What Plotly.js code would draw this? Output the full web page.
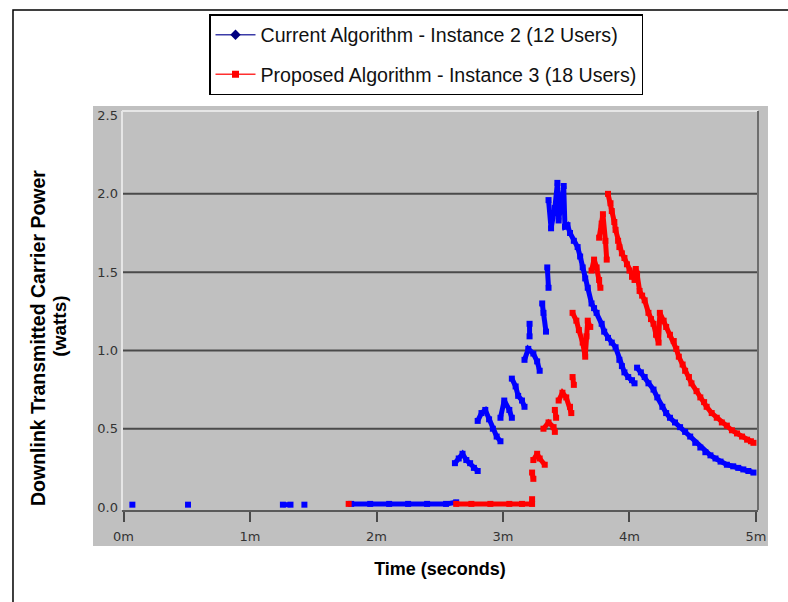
<!DOCTYPE html>
<html>
<head>
<meta charset="utf-8">
<script src="https://cdn.plot.ly/plotly-3.0.1.min.js"></script>
<style>html,body{margin:0;padding:0;background:#fff;}#chart{width:788px;height:602px;}</style>
</head>
<body>
<div id="chart"></div>
<script>
// Time in minutes, power in watts
var seriesNames = ["Current Algorithm - Instance 2 (12 Users)", "Proposed Algorithm - Instance 3 (18 Users)"];

var blueTime = [0.07,null,0.51,null,1.26,1.32,null,1.43,null,
  1.80,1.95,2.10,2.25,2.40,2.55,2.63,null,
  2.62,2.65,2.68,2.71,2.74,2.77,2.80,null,
  2.80,2.83,2.86,2.89,2.92,2.95,2.98,null,
  2.98,3.01,3.05,3.07,null,
  3.07,3.10,3.12,3.15,3.17,null,
  3.17,3.20,3.24,3.27,3.29,null,
  3.21,3.21,null,
  3.31,3.32,3.34,null,
  3.35,3.36,null,
  3.36,3.38,3.41,3.43,3.44,3.46,3.48,3.49,3.51,3.53,3.56,3.59,3.61,3.63,3.65,3.67,3.70,3.72,3.74,3.78,3.80,3.83,3.86,3.89,3.92,3.94,3.96,3.99,4.02,4.04,null,
  4.06,4.09,4.12,4.15,4.19,4.22,4.26,4.29,4.32,4.36,4.40,4.44,4.48,4.52,4.56,4.60,4.64,4.68,4.72,4.77,4.82,4.86,4.90,4.94,4.98];
var bluePower = [0.015,null,0.015,null,0.015,0.015,null,0.015,null,
  0.02,0.02,0.02,0.02,0.02,0.02,0.03,null,
  0.28,0.31,0.34,0.30,0.28,0.25,0.23,null,
  0.55,0.60,0.62,0.56,0.50,0.45,0.42,null,
  0.57,0.68,0.62,0.57,null,
  0.82,0.77,0.71,0.68,0.64,null,
  0.94,1.01,0.98,0.93,0.87,null,
  1.17,1.09,null,
  1.30,1.24,1.12,null,
  1.53,1.40,null,
  1.96,1.78,1.91,2.07,1.83,1.94,2.05,1.79,1.80,1.75,1.70,1.66,1.60,1.53,1.46,1.40,1.30,1.27,1.24,1.17,1.12,1.08,1.05,1.02,0.94,0.90,0.86,0.83,0.81,0.79,null,
  0.89,0.86,0.83,0.79,0.75,0.70,0.64,0.60,0.57,0.54,0.51,0.48,0.45,0.41,0.38,0.35,0.33,0.31,0.29,0.27,0.26,0.25,0.24,0.23,0.22];

var redTime = [1.78,null,
  2.63,2.75,2.90,3.05,3.15,3.23,3.23,null,
  3.23,3.24,null,
  3.24,3.27,3.29,3.33,null,
  3.32,3.36,3.40,3.41,null,
  3.41,3.42,null,
  3.44,3.47,3.50,3.53,3.54,null,
  3.55,3.56,null,
  3.55,3.58,3.60,3.63,3.65,3.66,3.67,3.69,null,
  3.70,3.72,3.74,3.76,3.77,null,
  3.76,3.78,3.79,3.81,3.82,null,
  3.83,3.85,3.86,3.88,3.89,3.91,3.92,3.94,3.96,3.98,4.00,4.02,4.04,4.05,4.06,4.08,4.10,4.12,4.15,4.17,4.19,4.21,4.23,4.24,4.27,4.29,4.32,4.35,4.37,4.39,4.42,4.44,4.47,4.49,4.53,4.56,4.59,4.61,4.65,4.69,4.73,4.77,4.81,4.85,4.89,4.93,4.96,4.98];
var redPower = [0.02,null,
  0.02,0.02,0.02,0.02,0.02,0.02,0.05,null,
  0.22,0.18,null,
  0.30,0.34,0.31,0.27,null,
  0.50,0.54,0.51,0.48,null,
  0.62,0.57,null,
  0.68,0.73,0.70,0.64,0.60,null,
  0.83,0.78,null,
  1.24,1.19,1.13,1.05,0.96,1.09,1.19,1.15,null,
  1.51,1.58,1.53,1.45,1.40,null,
  1.72,1.81,1.87,1.70,1.58,null,
  2.00,1.94,1.89,1.82,1.77,1.70,1.66,1.62,1.59,1.55,1.51,1.47,1.45,1.52,1.49,1.38,1.35,1.32,1.24,1.20,1.17,1.10,1.05,1.24,1.19,1.15,1.10,1.06,1.01,0.96,0.91,0.87,0.83,0.79,0.74,0.70,0.67,0.64,0.60,0.57,0.54,0.52,0.49,0.47,0.45,0.43,0.42,0.41];

var xTicks = [0,1,2,3,4,5];
var xTickLabels = ["0m","1m","2m","3m","4m","5m"];
var yTicks = [0,0.5,1.0,1.5,2.0,2.5];
var yTickLabels = ["0.0","0.5","1.0","1.5","2.0","2.5"];
var gridValues = [0.5,1.0,1.5,2.0];

var traces = [
  {x: blueTime, y: bluePower, type:'scatter', mode:'lines+markers', showlegend:false,
   line:{color:'#0000ff', width:5}, marker:{color:'#0000ff', size:6, symbol:'square'}, hoverinfo:'skip'},
  {x: redTime, y: redPower, type:'scatter', mode:'lines+markers', showlegend:false,
   line:{color:'#ff0000', width:5}, marker:{color:'#ff0000', size:6, symbol:'square'}, hoverinfo:'skip'},
  {x:[null], y:[null], type:'scatter', mode:'lines+markers', name:seriesNames[0], legendgroup:'a',
   line:{color:'#3c3ca8', width:1.5}, marker:{color:'#000080', size:8, symbol:'diamond'}},
  {x:[null], y:[null], type:'scatter', mode:'lines+markers', name:seriesNames[1], legendgroup:'b',
   line:{color:'#ff3030', width:1.5}, marker:{color:'#ff0000', size:7, symbol:'square'}}
];

var shapes = [
  {type:'rect', xref:'paper', yref:'paper', x0:-0.0456, x1:1.0157, y0:-0.0902, y1:1.0125,
   fillcolor:'#c0c0c0', line:{width:0}, layer:'below'},
  {type:'rect', xref:'paper', yref:'paper', x0:-0.1714, x1:1.2, y0:-0.3, y1:1.2531,
   fillcolor:'rgba(0,0,0,0)', line:{color:'#000', width:1.5}, layer:'below'},
  {type:'line', xref:'paper', yref:'paper', x0:0, x1:0, y0:0, y1:1, line:{color:'#e6e6e6', width:2}},
  {type:'line', xref:'paper', yref:'paper', x0:0, x1:1, y0:1, y1:1, line:{color:'#e6e6e6', width:2}},
  {type:'line', xref:'paper', yref:'paper', x0:1, x1:1, y0:0, y1:1, line:{color:'#6e6e6e', width:2}}
];
gridValues.forEach(function(v){
  shapes.push({type:'line', xref:'paper', yref:'y', x0:0, x1:1, y0:v, y1:v,
    line:{color:'#4a4a4a', width:2}, layer:'below'});
});

var layout = {
  width:788, height:602,
  margin:{l:122, r:30, t:111, b:92},
  paper_bgcolor:'#ffffff',
  plot_bgcolor:'#c0c0c0',
  font:{family:'"DejaVu Sans", sans-serif', color:'#333'},
  xaxis:{
    range:[-0.012, 5.016], tickvals:xTicks, ticktext:xTickLabels,
    showgrid:false, zeroline:false, showline:true, linecolor:'#5a5a5a', linewidth:2,
    ticks:'outside', ticklen:10, tickwidth:2, tickcolor:'#4a4a4a', ticklabelstandoff:3,
    tickfont:{size:13, color:'#333', family:'"DejaVu Sans", sans-serif'},
    title:{text:'Time (seconds)', standoff:20, font:{family:'"Liberation Sans", Arial, sans-serif', size:18, color:'#000', weight:'bold'}}
  },
  yaxis:{
    range:[-0.019, 2.529], tickvals:yTicks, ticktext:yTickLabels,
    showgrid:false, zeroline:false, showline:false, ticks:'',
    ticklabelstandoff:3,
    tickfont:{size:13, color:'#333', family:'"DejaVu Sans", sans-serif'}
  },
  legend:{
    x:0.1368, y:1.243, xanchor:'left', yanchor:'top',
    bgcolor:'#ffffff', bordercolor:'#000', borderwidth:1.5,
    font:{family:'"Liberation Sans", Arial, sans-serif', size:19.6, color:'#111'},
    itemwidth:40, traceorder:'grouped', tracegroupgap:11
  },
  shapes:shapes,
  annotations:[
    {xref:'paper', yref:'paper', x:-0.1321, y:0.431, text:'Downlink Transmitted Carrier Power',
     textangle:-90, showarrow:false, xanchor:'center', yanchor:'middle',
     font:{family:'"Liberation Sans", Arial, sans-serif', size:19.5, color:'#000', weight:'bold'}},
    {xref:'paper', yref:'paper', x:-0.0975, y:0.462, text:'(watts)',
     textangle:-90, showarrow:false, xanchor:'center', yanchor:'middle',
     font:{family:'"Liberation Sans", Arial, sans-serif', size:19, color:'#000', weight:'bold'}}
  ]
};

Plotly.newPlot('chart', traces, layout, {displayModeBar:false, staticPlot:true});
</script>
</body>
</html>
